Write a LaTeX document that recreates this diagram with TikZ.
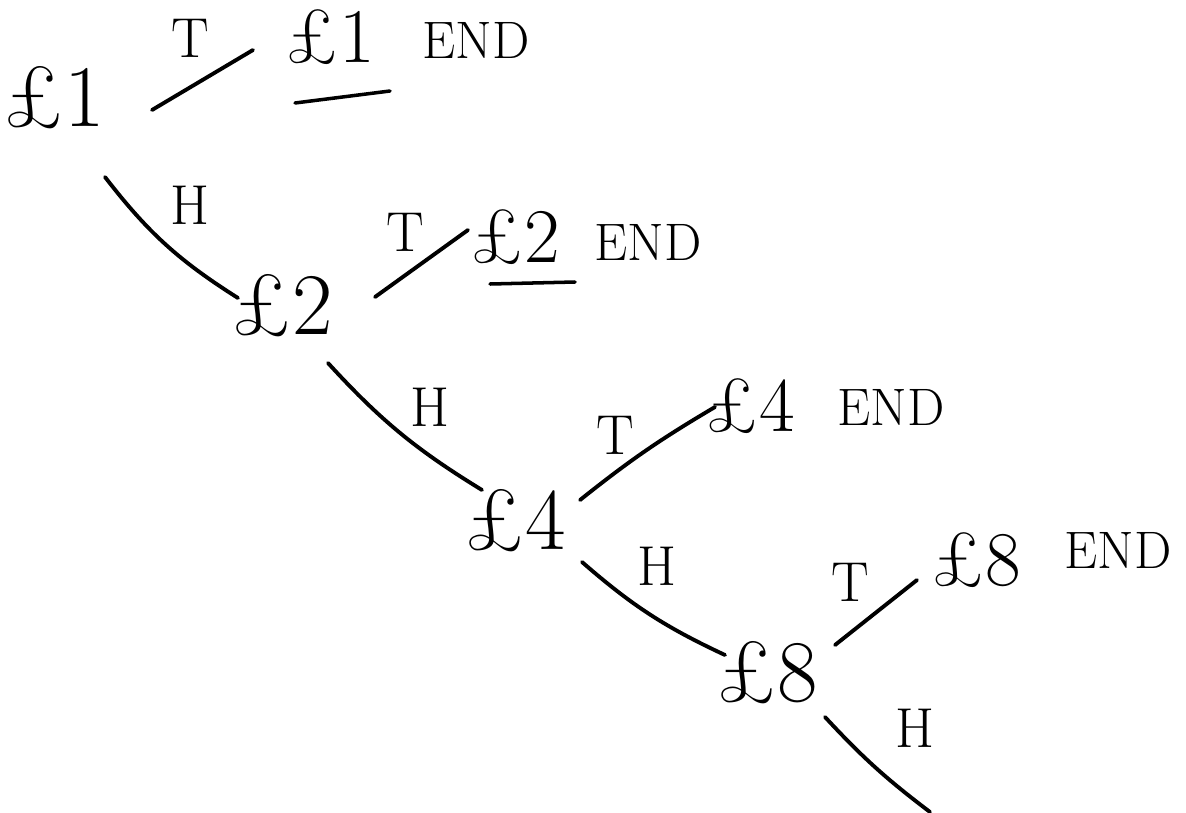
\documentclass[tikz,border=0pt]{standalone}
\usepackage{tikz}
\usetikzlibrary{positioning,calc}

\begin{document}
\begin{tikzpicture}[x=0.01cm, y=-0.01cm,
		amount/.style={inner sep=1pt, font=\fontsize{25}{30}\selectfont},
		payout/.style={inner sep=1pt, font=\fontsize{22}{26}\selectfont},
		endword/.style={inner sep=1pt, font=\fontsize{15}{18}\selectfont},
		coin/.style={inner sep=1pt, font=\fontsize{16}{19}\selectfont},
		branch/.style={line width=1.1pt, line cap=round, black},
		payline/.style={line width=1pt, line cap=round, black}
		]
		\useasboundingbox (0,0) rectangle (1186,812);
		
		% stakes along the heads path
		\node[amount] (a1) at (54,98) {£1};
		\node[amount] (a2) at (282,306) {£2};
		\node[amount] (a4) at (515,521) {£4};
		\node[amount] (a8) at (767,673) {£8};
		
		% payouts on tails
		\node[payout] (e1) at (330,37) {£1}; \node[endword] (end1) at (476,40) {END};
		\node[payout] (e2) at (515,237) {£2}; \node[endword] (end2) at (648,242) {END};
		\node[payout] (e4) at (750,406) {£4}; \node[endword] (end4) at (891,407) {END};
		\node[payout] (e8) at (976,560) {£8}; \node[endword] (end8) at (1118,550) {END};
		
		\coordinate (h8end) at (930,812);
		
		\draw[branch] ($(a1)+(98,12)$) -- ($(e1)+(-77,13)$);
		\draw[branch] ($(a1)+(51,79)$) to[bend right=10] ($(a2)+(-44,-8)$);
		\draw[branch] ($(a2)+(93,-9)$) -- ($(e2)+(-47,-7)$);
		\draw[branch] ($(a2)+(46,57)$) to[bend right=8] ($(a4)+(-33,-31)$);
		\draw[branch] ($(a4)+(65,-21)$) to[bend left=4] ($(e4)+(-35,1)$);
		\draw[branch] ($(a4)+(67,41)$) to[bend right=8] ($(a8)+(-42,-18)$);
		\draw[branch] ($(a8)+(68,-28)$) -- ($(e8)+(-59,20)$);
		\draw[branch] ($(a8)+(58,44)$) to[bend right=5] (h8end);
		
		\draw[payline] ($(e1)+(-35,66)$) -- ($(e1)+(60,54)$);
		\draw[payline] ($(e2)+(-25,47)$) -- ($(e2)+(60,45)$);
		
		\node[coin] (t1) at (190,38) {T}; \node[coin] (h1) at (190,205) {H};
		\node[coin] (t2) at (405,232) {T}; \node[coin] (h2) at (430,407) {H};
		\node[coin] (t4) at (615,435) {T}; \node[coin] (h4) at (657,566) {H};
		\node[coin] (t8) at (850,582) {T}; \node[coin] (h8) at (915,728) {H};
	\end{tikzpicture}
\end{document}
